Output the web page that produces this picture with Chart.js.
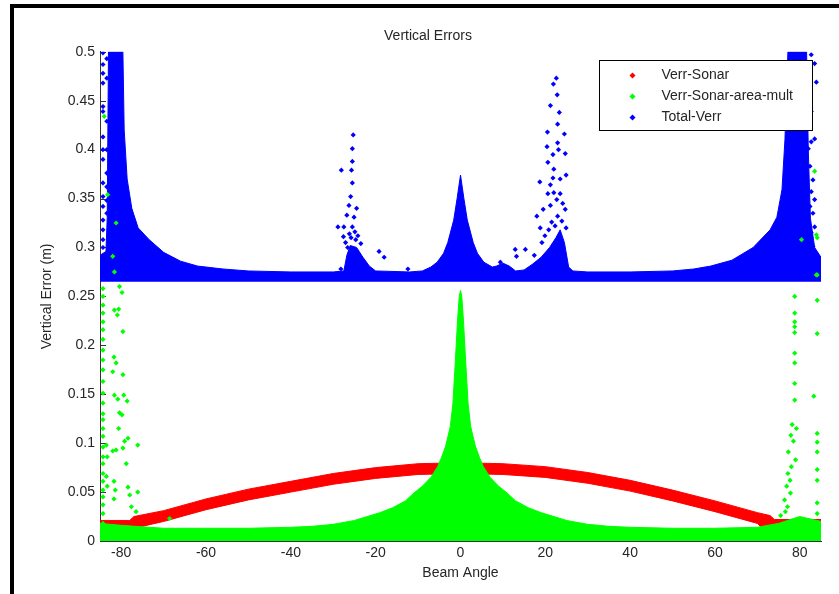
<!DOCTYPE html>
<html>
<head>
<meta charset="utf-8">
<title>Vertical Errors</title>
<script src="https://cdn.jsdelivr.net/npm/chart.js@4.4.1/dist/chart.umd.min.js"></script>
<style>
  body { margin: 0; background: #fff; }
  #wrap { position: relative; width: 839px; height: 594px; }
  #frameTop { position: absolute; left: 10px; top: 4px; width: 829px; height: 4px; background: #000; }
  #frameLeft { position: absolute; left: 10px; top: 4px; width: 4px; height: 590px; background: #000; }
</style>
</head>
<body>
<div id="wrap">
  <canvas id="errChart" width="839" height="594"></canvas>
  <div id="frameTop"></div>
  <div id="frameLeft"></div>
</div>
<script>
// tick labels
const xTickValues = [-80, -60, -40, -20, 0, 20, 40, 60, 80];
const yTickValues = [0, 0.05, 0.1, 0.15, 0.2, 0.25, 0.3, 0.35, 0.4, 0.45, 0.5];

// Verr-Sonar: red band (upper / lower edge)
const redAngle  = [-85, -78, -77, -70, -60, -50, -40, -30, -20, -10, 0, 10, 20, 30, 40, 50, 60, 70, 73, 74, 85];
const redTop    = [0.021, 0.021, 0.025, 0.031, 0.043, 0.053, 0.061, 0.069, 0.075, 0.079, 0.080, 0.079, 0.076, 0.070, 0.062, 0.052, 0.041, 0.029, 0.026, 0.022, 0.022];
const redBottom = [0.005, 0.005, 0.013, 0.020, 0.032, 0.042, 0.050, 0.058, 0.064, 0.068, 0.069, 0.068, 0.065, 0.059, 0.051, 0.041, 0.030, 0.018, 0.005, 0.004, 0.004];

// Verr-Sonar-area-mult: dense green cloud (upper edge, filled to 0)
const greenAngle = [-85, -80, -70, -60, -50, -40, -35, -30, -25, -22, -19, -16, -13, -11, -9, -7, -5.4, -4.5, -3.5, -2.4, -1.8, -1.2, -0.7, -0.3, 0,
  0.3, 0.7, 1.2, 1.8, 2.4, 3.5, 4.5, 5.4, 7, 9, 11, 13, 16, 19, 22, 25, 30, 35, 40, 50, 60, 70, 75, 80, 85];
const greenTop = [0.018, 0.016, 0.013, 0.013, 0.013, 0.014, 0.015, 0.017, 0.021, 0.025, 0.029, 0.034, 0.041, 0.049, 0.056, 0.065, 0.076, 0.085, 0.097, 0.117, 0.14, 0.185, 0.225, 0.25, 0.256,
  0.25, 0.225, 0.185, 0.14, 0.117, 0.097, 0.085, 0.076, 0.065, 0.056, 0.049, 0.041, 0.034, 0.029, 0.025, 0.021, 0.017, 0.015, 0.014, 0.013, 0.013, 0.014, 0.018, 0.025, 0.02];

// green outliers
const greenDotAngle = [
  -84.3, -84.3, -84.3, -84.3, -84.3, -84.3, -84.3, -84.3, -84.3, -84.3, -84.3, -84.3, -84.3, -84.3, -84.3, -84.3, -84.3, -84.3, -84.3, -84.3, -84.3, -84.3, -84.3, -84.3, -84.3, -84.3, -84.3,
  -80.4, -79.8, -81.6, -80.6, -80.9, -79.6, -81.7, -81.2, -82, -79.6, -81.6, -79.4, -80.8, -78.6, -80.4, -79.8, -80.6, -78.4, -79.2, -83.5, -76.1, -82, -81.2, -79.6, -83.3, -78.8,
  -83.5, -83.3, -81.7, -81.4, -78.4, -76.1, -78, -81.7, -77.6, -76.5, -68.6,
  -84, -83.2, -81.2, -82, -81.6,
  78.8, 78.8, 78.8, 78.8, 78.8, 78.8, 78.8, 78.8, 78.8, 78.2, 79.2, 77.9, 78.5, 77.3, 79, 78, 77.2, 77.7, 76.9, 77.8, 76.4, 77.1, 76.6, 75.5,
  84.1, 84.1, 84.1, 83.3, 84.1, 84.1, 84.1, 84.1, 84.1, 84.1, 84.1,
  83.5, 83.9, 84.1, 80.4, 83.9];
const greenDotValue = [
  0.258, 0.250, 0.241, 0.233, 0.224, 0.216, 0.206, 0.195, 0.185, 0.175, 0.163, 0.151, 0.141, 0.130, 0.124, 0.115, 0.107, 0.096, 0.086, 0.079, 0.069, 0.061, 0.052, 0.045, 0.037, 0.028, 0.018,
  0.260, 0.254, 0.236, 0.237, 0.231, 0.214, 0.188, 0.182, 0.173, 0.170, 0.149, 0.149, 0.145, 0.143, 0.131, 0.129, 0.115, 0.105, 0.102, 0.098, 0.098, 0.092, 0.093, 0.095, 0.086, 0.079,
  0.066, 0.056, 0.061, 0.052, 0.055, 0.050, 0.047, 0.043, 0.035, 0.030, 0.023,
  0.434, 0.354, 0.325, 0.291, 0.275,
  0.250, 0.233, 0.224, 0.219, 0.213, 0.192, 0.182, 0.161, 0.144, 0.119, 0.115, 0.108, 0.102, 0.091, 0.083, 0.076, 0.069, 0.062, 0.056, 0.049, 0.042, 0.035, 0.030, 0.026,
  0.272, 0.246, 0.212, 0.148, 0.110, 0.101, 0.091, 0.073, 0.062, 0.039, 0.028,
  0.378, 0.313, 0.310, 0.308, 0.272];

// Total-Verr: dense blue cloud (upper edge, filled down to the floor value)
const blueFloor = 0.265;
const blueAngle = [-85, -83.6, -83.3, -83, -79.6, -79.3, -78.6, -77.5, -76, -73.4, -70, -66, -62, -56, -50, -40, -30, -27.5, -26.8, -26, -24.5, -23, -21.5, -20, -12,
  -9, -7, -5.5, -4, -3, -1.6, -0.8, 0, 0.8, 1.6, 3, 4, 5.5, 7.5, 8.5, 10, 11.5, 13, 15, 17, 19, 21, 22.5, 23.5, 24.5, 25.5, 26.5, 30, 40,
  50, 55, 59, 64, 69, 73, 74.6, 75.8, 76.5, 77.2, 81.6, 82, 82.5, 83.5, 85];
const blueTop = [0.292, 0.296, 0.33, 0.5, 0.5, 0.42, 0.37, 0.34, 0.32, 0.308, 0.295, 0.286, 0.281, 0.278, 0.276, 0.275, 0.275, 0.276, 0.292, 0.302, 0.300, 0.290, 0.281, 0.276, 0.275,
  0.276, 0.280, 0.285, 0.294, 0.305, 0.328, 0.35, 0.374, 0.35, 0.328, 0.305, 0.294, 0.285, 0.280, 0.281, 0.284, 0.281, 0.276, 0.277, 0.283, 0.290, 0.300, 0.310, 0.318, 0.305, 0.280, 0.276, 0.275, 0.275,
  0.276, 0.278, 0.281, 0.287, 0.300, 0.318, 0.331, 0.359, 0.41, 0.5, 0.5, 0.40, 0.33, 0.30, 0.29];

// blue outliers
const blueDotAngle = [
  -84.3, -84.3, -84.3, -84.3, -84.3, -84.3, -84.3, -84.3, -84.3, -84.3, -84.3, -84.3, -84.3, -84.3, -84.3, -84.3,
  -83.4, -83.4, -83.4, -83.4, -83.4, -83.4, -83.4, -83.4,
  -25.3, -25.5, -25.5, -28.1, -25.7, -25.5, -25.9, -26.3, -24.5, -26.8, -25.1, -28.9, -27.5, -25.5, -27.6, -28.2, -19.2, -18, -12.4, -23.5, -24.7,
  -26.2, -24.9, -27.1, -25.8, -24.2, -26.6, -22.6,
  22.6, 21.9, 22.8, 21.2, 23.3, 20.5, 22.9, 24.5, 20.4, 22.9, 23.1, 21.8, 24.7, 20.6, 22, 18.7, 21.8, 23.5, 24.9, 21.2, 20.6, 22, 23.5, 22.7, 19.5, 21.2, 24.7, 18, 22.9, 18.8, 24.9, 15.3, 12.9, 13.2, 9.4,
  19.9, 21.5, 23.9, 20.8, 22.3, 24.1, 19.2, 17.4,
  82.7, 83.5, 83.9, 82.7, 83.5, 82.7, 82, 82.4, 83.1, 81.6, 82.7, 83.5, 82.4, 83.1, 82, 83.5, 82.7, 81.6, 83.1, 82.4, 83.5];
const blueDotValue = [
  0.499, 0.487, 0.478, 0.468, 0.444, 0.439, 0.413, 0.400, 0.390, 0.366, 0.352, 0.342, 0.328, 0.318, 0.308, 0.300,
  0.493, 0.473, 0.429, 0.400, 0.376, 0.362, 0.348, 0.335,
  0.415, 0.401, 0.388, 0.379, 0.379, 0.366, 0.352, 0.343, 0.340, 0.333, 0.331, 0.321, 0.321, 0.321, 0.311, 0.278, 0.296, 0.290, 0.278, 0.304, 0.308,
  0.314, 0.316, 0.305, 0.310, 0.312, 0.300, 0.284,
  0.473, 0.467, 0.456, 0.445, 0.438, 0.418, 0.426, 0.416, 0.403, 0.407, 0.400, 0.395, 0.396, 0.387, 0.380, 0.367, 0.371, 0.370, 0.374, 0.364, 0.355, 0.356, 0.355, 0.349, 0.339, 0.343, 0.339, 0.332, 0.332, 0.320, 0.320, 0.298, 0.298, 0.291, 0.285,
  0.312, 0.326, 0.327, 0.318, 0.322, 0.345, 0.305, 0.292,
  0.497, 0.488, 0.469, 0.439, 0.411, 0.408, 0.401, 0.383, 0.369, 0.362, 0.357, 0.349, 0.342, 0.335, 0.326, 0.321, 0.315, 0.308, 0.301, 0.294, 0.286];

const seriesNames = ["Verr-Sonar", "Verr-Sonar-area-mult", "Total-Verr"];
const seriesColors = ["#ff0000", "#00ff00", "#0000ff"];

function pairs(xs, ys) {
  return xs.map((x, i) => ({ x, y: ys[i] }));
}

const FONT = "'Liberation Sans', Arial, sans-serif";
const TEXT = "#262626";

function areaSet(data, color, fill, order) {
  return {
    data, fill, order,
    showLine: true,
    borderColor: color,
    backgroundColor: color,
    borderWidth: 1,
    pointRadius: 0,
    tension: 0
  };
}

function dotSet(data, color, order) {
  return {
    data, order,
    showLine: false,
    pointStyle: "rectRot",
    pointRadius: 2.6,
    borderWidth: 0,
    backgroundColor: color,
    borderColor: color
  };
}

// inward tick marks, like MATLAB
const innerTicks = {
  id: "innerTicks",
  beforeDatasetsDraw(chart) {
    const { ctx, chartArea: a, scales: { x, y } } = chart;
    ctx.save();
    ctx.strokeStyle = "#333";
    ctx.lineWidth = 1;
    y.ticks.forEach(t => {
      const py = Math.round(y.getPixelForValue(t.value)) + 0.5;
      ctx.beginPath(); ctx.moveTo(a.left, py); ctx.lineTo(a.left + 6, py); ctx.stroke();
    });
    x.ticks.forEach(t => {
      const px = Math.round(x.getPixelForValue(t.value)) + 0.5;
      ctx.beginPath(); ctx.moveTo(px, a.bottom); ctx.lineTo(px, a.bottom - 6); ctx.stroke();
    });
    ctx.restore();
  }
};

// legend box in the top right corner of the axes
const boxLegend = {
  id: "boxLegend",
  afterDraw(chart) {
    const { ctx, chartArea: a } = chart;
    const w = 213, h = 70;
    const left = Math.round(a.right - 222) + 0.5, top = Math.round(a.top + 8) + 0.5;
    ctx.save();
    ctx.fillStyle = "#fff";
    ctx.fillRect(left, top, w, h);
    ctx.strokeStyle = "#000";
    ctx.lineWidth = 1;
    ctx.strokeRect(left, top, w, h);
    ctx.font = "14px " + FONT;
    ctx.textBaseline = "middle";
    seriesNames.forEach((name, i) => {
      const cy = top + 15 + i * 21;
      const cx = left + 33;
      ctx.fillStyle = seriesColors[i];
      ctx.beginPath();
      ctx.moveTo(cx, cy - 3); ctx.lineTo(cx + 3, cy); ctx.lineTo(cx, cy + 3); ctx.lineTo(cx - 3, cy);
      ctx.closePath(); ctx.fill();
      ctx.fillStyle = TEXT;
      ctx.fillText(name, left + 62, cy);
    });
    ctx.restore();
  }
};

const datasets = [
  // 0,1 red band
  areaSet(pairs(redAngle, redTop), "#ff0000", false, 6),
  areaSet(pairs(redAngle, redBottom), "#ff0000", 0, 5),
  // 2 green cloud
  areaSet(pairs(greenAngle, greenTop), "#00ff00", "origin", 4),
  // 3 blue cloud
  areaSet(pairs(blueAngle, blueTop), "#0000ff", { value: blueFloor }, 2),
  // 4 blue outliers
  dotSet(pairs(blueDotAngle, blueDotValue), "#0000ff", 1),
  // 5 green outliers
  dotSet(pairs(greenDotAngle, greenDotValue), "#00ff00", 0)
];

new Chart(document.getElementById("errChart"), {
  type: "scatter",
  data: { datasets },
  options: {
    responsive: false,
    animation: false,
    events: [],
    layout: { padding: { left: 35, right: 18, top: 23, bottom: 8 } },
    plugins: {
      legend: { display: false },
      tooltip: { enabled: false },
      title: {
        display: true,
        text: "Vertical Errors",
        color: TEXT,
        font: { family: FONT, size: 14, weight: "normal" },
        padding: { top: 5, bottom: 7 }
      }
    },
    scales: {
      x: {
        type: "linear",
        min: -85,
        max: 85,
        afterBuildTicks: s => { s.ticks = xTickValues.map(v => ({ value: v })); },
        afterFit: s => { s.height = 45; },
        grid: { display: true, drawOnChartArea: false, drawTicks: false },
        border: { display: true, color: "#333" },
        ticks: { color: TEXT, padding: 4, font: { family: FONT, size: 14 } },
        title: { display: true, text: "Beam Angle", color: TEXT, font: { family: FONT, size: 14 } }
      },
      y: {
        type: "linear",
        min: 0,
        max: 0.5,
        afterBuildTicks: s => { s.ticks = yTickValues.map(v => ({ value: v })); },
        afterFit: s => { s.width = 65; },
        grid: { display: true, drawOnChartArea: false, drawTicks: false },
        border: { display: true, color: "#333" },
        ticks: {
          color: TEXT, padding: 5, font: { family: FONT, size: 14 },
          callback: v => String(Math.round(v * 100) / 100)
        },
        title: { display: true, text: "Vertical Error (m)", color: TEXT, font: { family: FONT, size: 14 } }
      }
    }
  },
  plugins: [innerTicks, boxLegend]
});
</script>
</body>
</html>
